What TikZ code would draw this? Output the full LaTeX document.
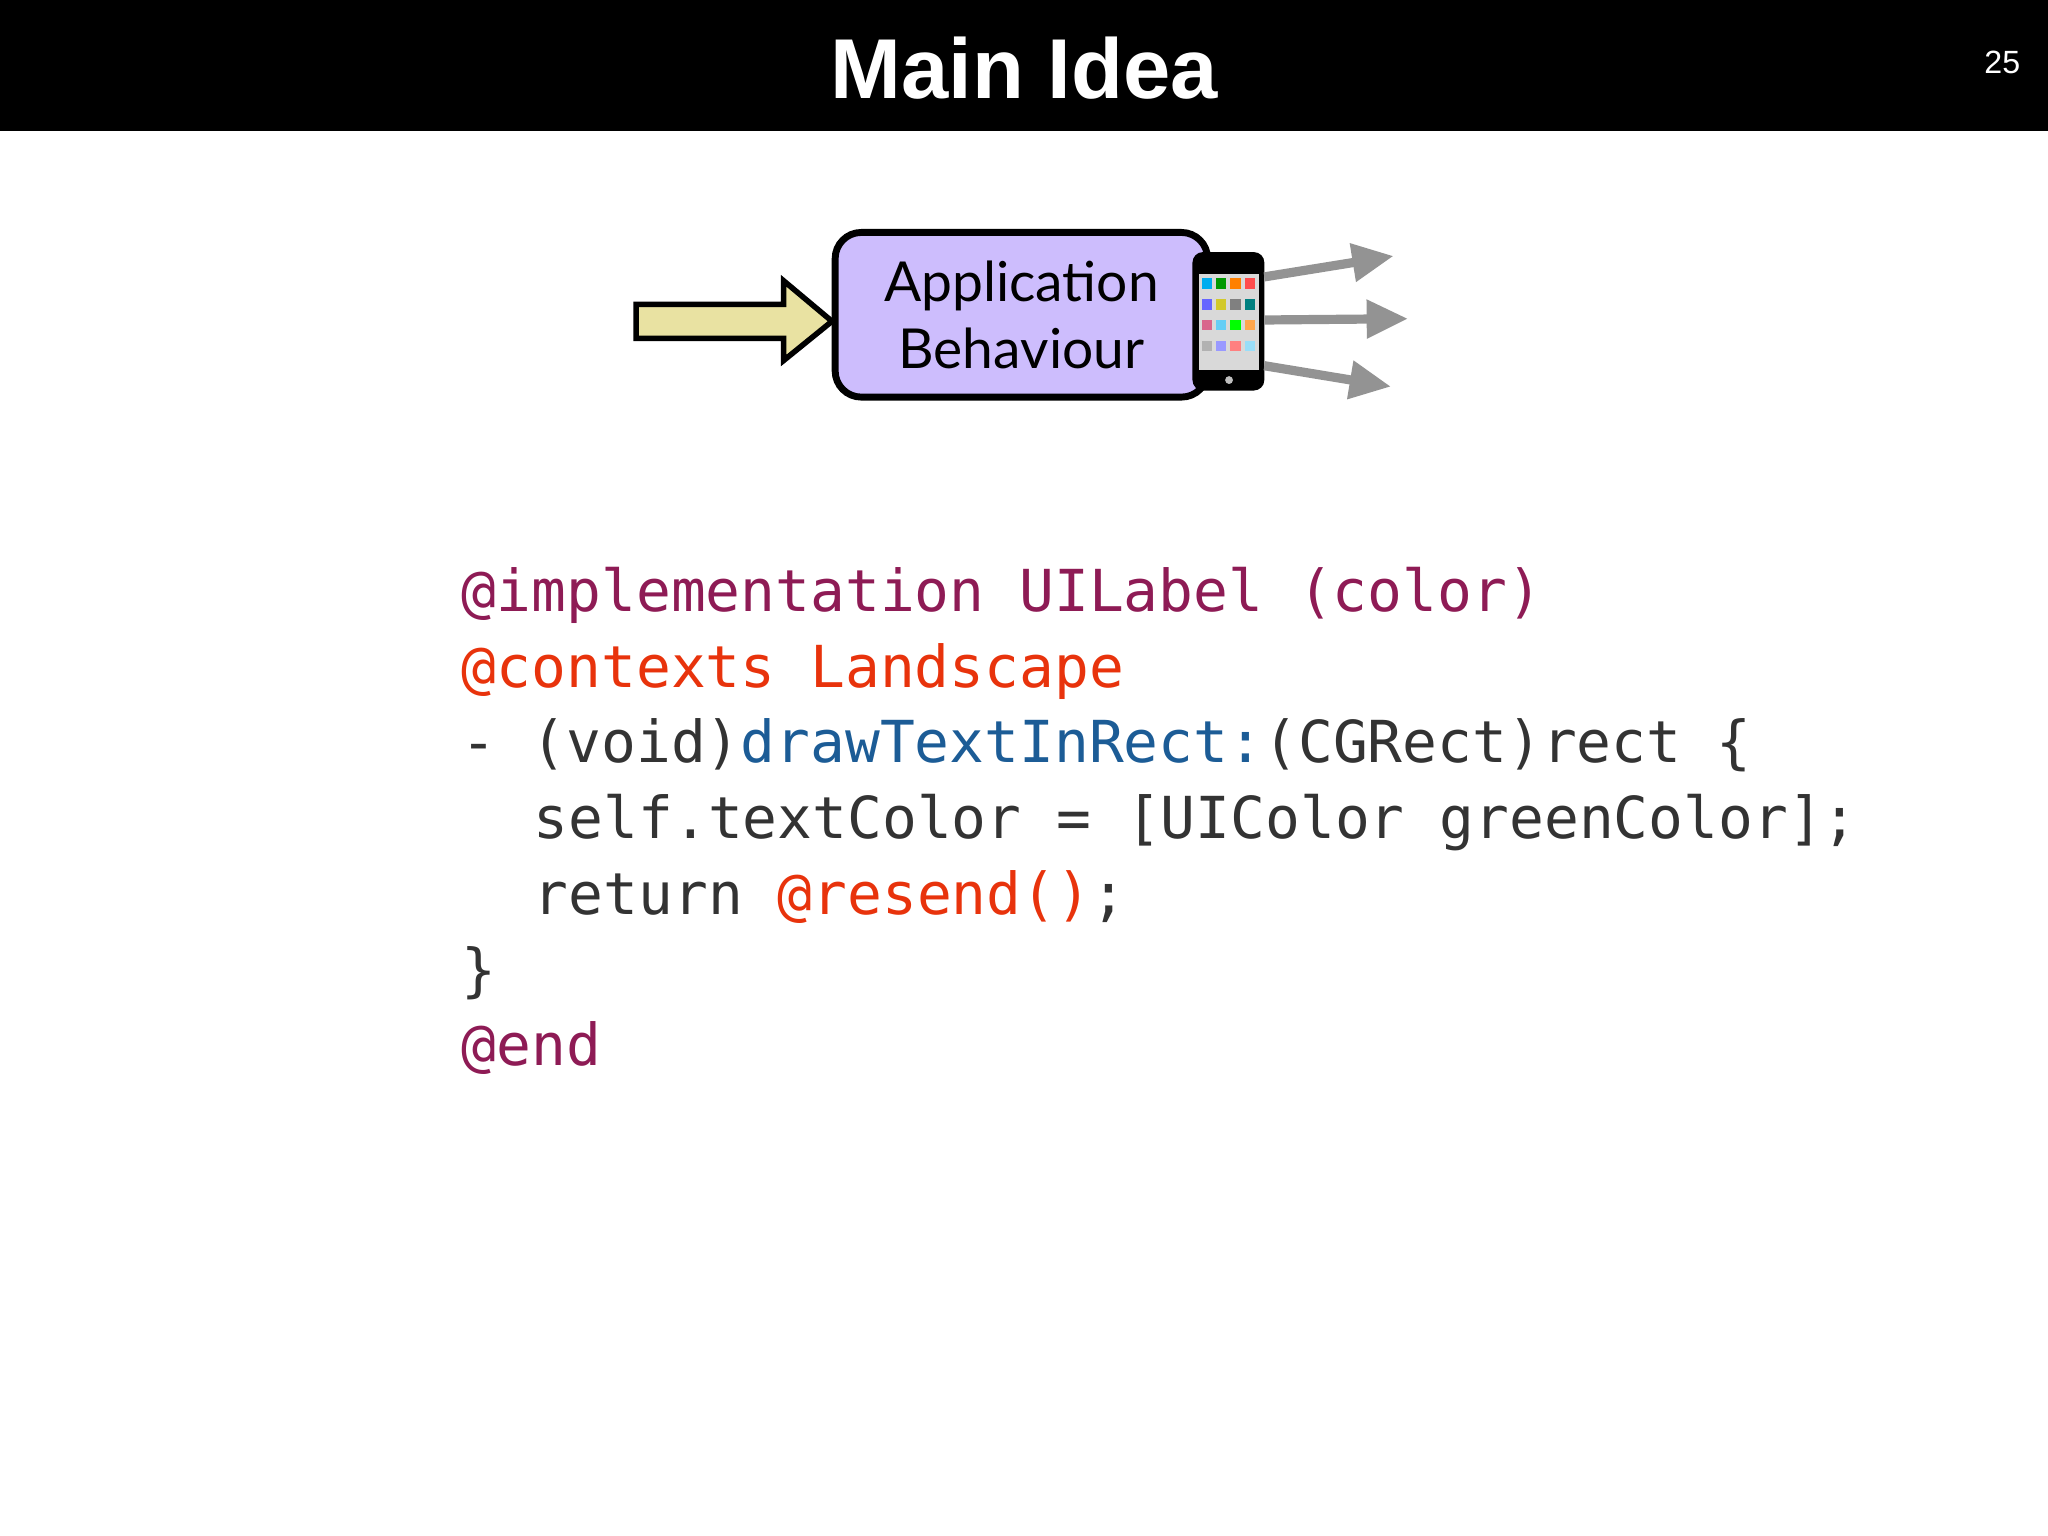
\documentclass[tikz,border=0pt]{standalone}
\usepackage{fontspec}
\setmainfont{Liberation Sans}
\newfontfamily\boxfont{Lato}
\newfontfamily\codefont{DejaVu Sans Mono}
\usetikzlibrary{positioning,arrows.meta}
\definecolor{kwpurple}{HTML}{8E1B55}
\definecolor{kwred}{HTML}{E8330C}
\definecolor{kwblue}{HTML}{1C5C96}
\definecolor{codegray}{HTML}{333333}
\definecolor{boxlilac}{HTML}{CDBDFD}
\definecolor{arrowyellow}{HTML}{E9E2A2}
\begin{document}
\begin{tikzpicture}[
    x=0.01cm, y=-0.01cm,
    code line/.style={anchor=base west, inner sep=0pt, font=\codefont\fontsize{12.6}{14}\selectfont, text=codegray},
    out arrow/.style={draw=gray!85, line width=2pt, -{Triangle[length=9pt,width=8pt]}}
    ]
    \useasboundingbox (0,0) rectangle (1568,1176);
    % title bar
    \fill[black] (0,0) rectangle (1568,100);
    \node[text=white, font=\bfseries\fontsize{18.5}{22}\selectfont] (title) at (784,52) {Main Idea};
    \node[text=white, font=\fontsize{7}{9}\selectfont] (pagenum) at (1533,48) {25};

    % input arrow
    \draw[black, line width=1.2pt, fill=arrowyellow] (487,233) -- (600,233) -- (600,215) -- (637,246)
        -- (600,276) -- (600,259) -- (487,259) -- cycle;
    % behaviour box
    \node[draw=black, line width=1.5pt, fill=boxlilac, rounded corners=0.2cm, minimum width=2.85cm, minimum height=1.26cm,
          align=center, font=\boxfont\fontsize{12}{14.5}\selectfont] (app) at (782,241) {Application\\Behaviour};

    % phone
    \fill[black, rounded corners=0.08cm] (913,193) rectangle (968,299);
    \fill[gray!30] (918,210) rectangle (964,283);
    \foreach \c [count=\i from 0] in {cyan,green!60!black,orange,red!70,blue!60,yellow!80!black,gray,teal,purple!60,cyan!60,green,orange!70,gray!60,blue!40,red!50,cyan!40}{
        \pgfmathsetmacro{\cx}{920+11*mod(\i,4)}
        \pgfmathsetmacro{\cy}{213+16*floor(\i/4)}
        \fill[\c] (\cx,\cy) rectangle ++(8,8);
    }
    \fill[gray!50] (941,291) circle (3);

    % output arrows
    \coordinate (o1) at (1067,196);
    \coordinate (o2) at (1078,244);
    \coordinate (o3) at (1065,296);
    \draw[out arrow] (968,212) -- (o1);
    \draw[out arrow] (968,245) -- (o2);
    \draw[out arrow] (968,280) -- (o3);

    % code
    \node[code line] (l1) at (353,468) {\textcolor{kwpurple}{@implementation UILabel (color)}};
    \node[code line] (l2) at (353,526) {\textcolor{kwred}{@contexts Landscape}};
    \node[code line] (l3) at (353,584) {- (void)\textcolor{kwblue}{drawTextInRect:}(CGRect)rect \{};
    \node[code line] (l4) at (408,642) {self.textColor = [UIColor greenColor];};
    \node[code line] (l5) at (408,700) {return \textcolor{kwred}{@resend()};};
    \node[code line] (l6) at (353,758) {\}};
    \node[code line] (l7) at (353,816) {\textcolor{kwpurple}{@end}};
\end{tikzpicture}
\end{document}
